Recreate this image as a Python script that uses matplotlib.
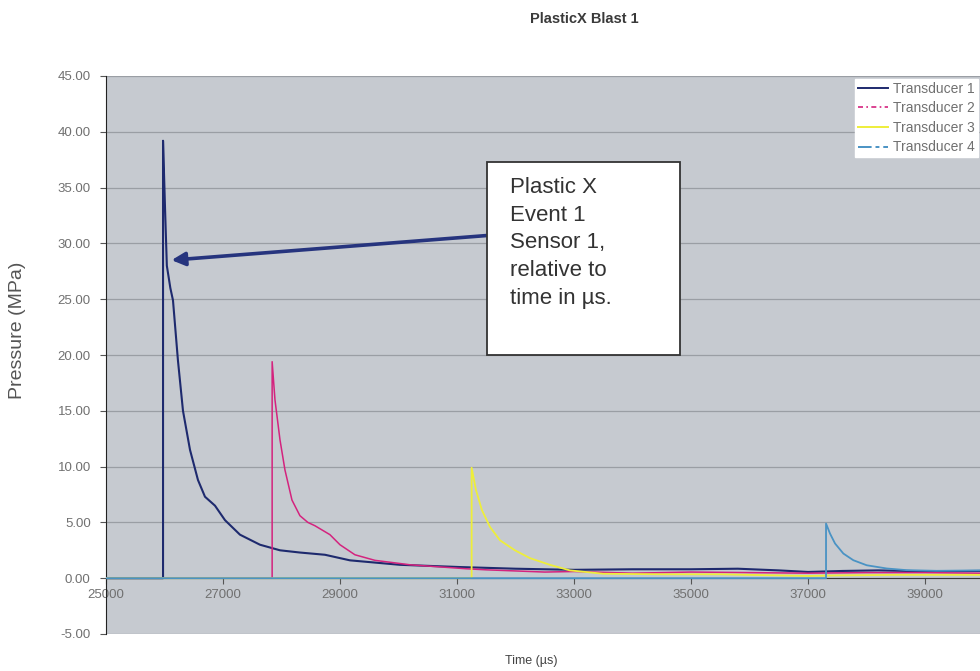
import matplotlib
matplotlib.use("Agg")
import matplotlib.pyplot as plt
from matplotlib.lines import Line2D
from matplotlib.patches import Rectangle
from matplotlib.ticker import FuncFormatter

plt.rcParams['font.family'] = ['Liberation Sans', 'DejaVu Sans']

# ---- data (time in µs, pressure in MPa) ----
t1_time = [25000, 25975, 25975, 26010, 26040, 26100, 26145, 26230, 26316, 26436,
           26572, 26692, 26863, 27034, 27290, 27632, 27974, 28315, 28743, 29170,
           30025, 31050, 32000, 33000, 34000, 35000, 35800, 36500, 37000, 37600,
           38200, 39000, 39940]
t1_pres = [0.0, 0.0, 39.2, 33.0, 28.0, 26.0, 24.9, 19.5, 15.0, 11.5,
           8.8, 7.3, 6.5, 5.2, 3.9, 3.0, 2.5, 2.3, 2.1, 1.6,
           1.2, 1.0, 0.85, 0.75, 0.80, 0.80, 0.85, 0.70, 0.56, 0.65,
           0.70, 0.62, 0.65]

t2_time = [25000, 27840, 27840, 27888, 27974, 28059, 28179, 28315, 28450, 28572,
           28828, 28999, 29255, 29597, 30200, 31147, 31500, 32500, 33000, 34000,
           35000, 36000, 37000, 38000, 39000, 39940]
t2_pres = [0.0, 0.0, 19.4, 16.0, 12.4, 9.7, 7.0, 5.6, 5.0, 4.7,
           3.9, 3.0, 2.1, 1.6, 1.2, 0.85, 0.75, 0.55, 0.60, 0.45,
           0.55, 0.50, 0.45, 0.50, 0.50, 0.45]

t3_time = [25000, 31250, 31250, 31324, 31426, 31563, 31734, 31990, 32246, 32588,
           32930, 33500, 34500, 35500, 36000, 37000, 37500, 38500, 39940]
t3_pres = [0.0, 0.0, 9.9, 7.9, 6.1, 4.6, 3.4, 2.5, 1.8, 1.2,
           0.7, 0.40, 0.35, 0.35, 0.30, 0.20, 0.25, 0.30, 0.30]

t4_time = [25000, 37308, 37308, 37376, 37462, 37604, 37775, 38003, 38345, 38687,
           39200, 39940]
t4_pres = [0.0, 0.0, 4.90, 4.00, 3.11, 2.21, 1.61, 1.16, 0.87, 0.72,
           0.66, 0.70]

series_labels = ['Transducer 1', 'Transducer 2', 'Transducer 3', 'Transducer 4']
series_colors = ['#1e2a6e', '#d4237e', '#eeee3a', '#4a93c4']

x_ticks = [25000, 27000, 29000, 31000, 33000, 35000, 37000, 39000]
y_ticks = [-5, 0, 5, 10, 15, 20, 25, 30, 35, 40, 45]

# ---- figure ----
fig = plt.figure(figsize=(9.8, 6.71), dpi=100)
fig.patch.set_facecolor('white')
ax = fig.add_axes([106 / 980, 37 / 671, 874 / 980, 558 / 671])
ax.set_facecolor('#c6cad0')

ax.set_xlim(25000, 39940)
ax.set_ylim(-5, 45)

for y in y_ticks:
    ax.axhline(y, color='#9a9ea4', lw=0.9, zorder=1)

widths = [1.5, 1.1, 1.3, 1.3]
for tt, pp, c, lw, lab in zip([t1_time, t2_time, t3_time, t4_time],
                              [t1_pres, t2_pres, t3_pres, t4_pres],
                              series_colors, widths, series_labels):
    ax.plot(tt, pp, color=c, lw=lw, label=lab, zorder=3)

# axes styling
for s in ['top', 'right']:
    ax.spines[s].set_visible(False)
ax.spines['bottom'].set_position(('data', 0))
ax.spines['bottom'].set_color('#3a3a3a')
ax.spines['bottom'].set_zorder(2)
ax.spines['left'].set_color('#222222')

ax.set_xticks(x_ticks)
ax.set_yticks(y_ticks)
ax.xaxis.set_major_formatter(FuncFormatter(lambda v, p: f'{int(v)}'))
ax.yaxis.set_major_formatter(FuncFormatter(lambda v, p: f'{v:.2f}'))
ax.tick_params(axis='both', direction='out', length=4, width=0.8,
               colors='#555555', labelsize=9.5, labelcolor='#707070')
ax.tick_params(axis='x', pad=4)
ax.tick_params(axis='y', pad=7)

# titles and axis labels
fig.text(584 / 980, 1 - 19 / 671, 'PlasticX Blast 1', ha='center', va='center',
         fontsize=10.5, fontweight='bold', color='#3a3a3a')
fig.text(17 / 980, 1 - 330 / 671, 'Pressure (MPa)', rotation=90, ha='center',
         va='center', fontsize=14, color='#555555')
fig.text(531 / 980, 1 - 661 / 671, 'Time (µs)', ha='center', va='center',
         fontsize=9, color='#444444')

# legend
handles = [
    Line2D([], [], color=series_colors[0], lw=1.4),
    Line2D([], [], color=series_colors[1], lw=1.2, linestyle=(0, (3, 2, 1, 2))),
    Line2D([], [], color=series_colors[2], lw=1.4),
    Line2D([], [], color=series_colors[3], lw=1.4, linestyle=(0, (7, 2, 2, 2))),
]
leg = ax.legend(handles, series_labels, loc='upper left',
                bbox_to_anchor=(848 / 980, 1 - 72 / 671),
                bbox_transform=fig.transFigure, fontsize=10, frameon=True,
                fancybox=False, framealpha=1.0, edgecolor='white',
                handlelength=2.2, handletextpad=0.35, labelspacing=0.4,
                borderpad=0.2, labelcolor='#707070')
leg.set_zorder(6)

# callout arrow and text box
ax.annotate('', xy=(26120, 28.5), xytext=(31496, 30.7),
            arrowprops=dict(arrowstyle='-|>', color='#26347e', lw=2.6,
                            mutation_scale=20, shrinkA=0, shrinkB=0),
            zorder=4)
box = Rectangle((487 / 980, 1 - 355 / 671), 193 / 980, 193 / 671,
                transform=fig.transFigure, facecolor='white',
                edgecolor='#333333', lw=1.3, zorder=7)
fig.add_artist(box)
fig.text(510 / 980, 1 - 177 / 671,
         'Plastic X\nEvent 1\nSensor 1,\nrelative to\ntime in µs.',
         ha='left', va='top', fontsize=16, linespacing=1.42,
         color='#333333', zorder=8)

fig.savefig('out.png', dpi=100)
